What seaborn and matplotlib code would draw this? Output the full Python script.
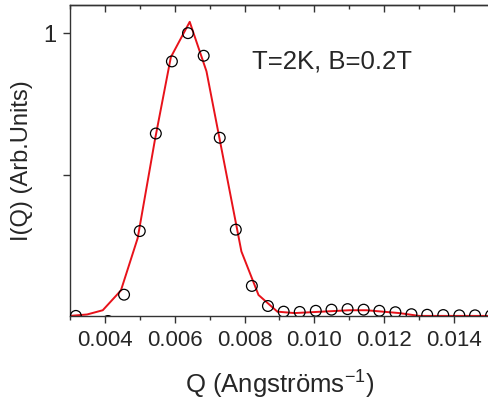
import numpy as np
import pandas as pd
import matplotlib
matplotlib.use("Agg")
import matplotlib.pyplot as plt
import seaborn as sns
from matplotlib.ticker import MultipleLocator

# measured intensities (circles)
q_data = [0.00317, 0.00409, 0.00455, 0.00500, 0.00546, 0.00592, 0.00638, 0.00683,
          0.00729, 0.00775, 0.00821, 0.00867, 0.00912, 0.00958, 0.01004, 0.01049,
          0.01095, 0.01141, 0.01186, 0.01232, 0.01278, 0.01323, 0.01369, 0.01415,
          0.01460, 0.01506]
i_data = [0.0, -0.018, 0.075, 0.30, 0.645, 0.90, 1.0, 0.92,
          0.63, 0.305, 0.106, 0.035, 0.015, 0.014, 0.018, 0.022,
          0.024, 0.022, 0.018, 0.013, 0.006, 0.004, 0.003, 0.002,
          0.002, 0.002]

# fit curve (red line)
q_fit = [0.00300, 0.00349, 0.00394, 0.00446, 0.00494, 0.00543, 0.00589, 0.00643,
         0.00691, 0.00791, 0.00840, 0.00894, 0.00943, 0.01100, 0.01149, 0.01243,
         0.01300, 0.01500]
i_fit = [0.0, 0.005, 0.02, 0.09, 0.275, 0.62, 0.915, 1.04,
         0.865, 0.228, 0.074, 0.015, 0.010, 0.020, 0.020, 0.010,
         0.0, 0.0]

sns.set_style("ticks")
plt.rcParams['font.family'] = ['Liberation Sans', 'DejaVu Sans']

df_data = pd.DataFrame({"Q": q_data, "I": i_data})
df_fit = pd.DataFrame({"Q": q_fit, "I": i_fit})

fig = plt.figure(figsize=(4.89, 4.05), dpi=100)
ax = fig.add_axes([0.143, 0.22, 0.857, 0.768])

sns.lineplot(data=df_fit, x="Q", y="I", color="#e8121a", linewidth=1.4, ax=ax, sort=False)
sns.scatterplot(data=df_data, x="Q", y="I", marker="o", s=60, facecolor="none",
                edgecolor="black", linewidth=0.9, ax=ax, zorder=3)

ax.set_xlim(0.003, 0.015)
ax.set_ylim(0, 1.1)
ax.set_xticks([0.004, 0.006, 0.008, 0.010, 0.012, 0.014])
ax.set_xticklabels(["0.004", "0.006", "0.008", "0.010", "0.012", "0.014"])
ax.xaxis.set_minor_locator(MultipleLocator(0.001))
ax.set_yticks([0.5, 1.0])
ax.set_yticklabels(["", "1"])

ax.spines["right"].set_visible(False)
for s in ["left", "top", "bottom"]:
    ax.spines[s].set_linewidth(1.0)
    ax.spines[s].set_color("#333333")

ax.tick_params(axis="x", which="major", direction="out", length=5, width=1,
               labelsize=16, color="#333333", pad=5)
ax.tick_params(axis="x", which="minor", direction="out", length=3, width=1,
               color="#333333")
ax.tick_params(axis="y", which="major", direction="out", length=5, width=1,
               labelsize=17, color="#333333", pad=5)

# top axis: inward ticks, no labels
top = ax.secondary_xaxis("top")
top.set_xticks([0.004, 0.006, 0.008, 0.010, 0.012, 0.014])
top.xaxis.set_minor_locator(MultipleLocator(0.001))
top.tick_params(axis="x", which="major", direction="in", length=5, width=1,
                labeltop=False, color="#333333")
top.tick_params(axis="x", which="minor", direction="in", length=3, width=1,
                color="#333333")
top.spines["top"].set_linewidth(1.0)
top.spines["top"].set_color("#333333")

ax.set_xlabel("Q (Angströms$^{\\mathregular{-1}}$)", fontsize=18.5, labelpad=12)
ax.set_ylabel("I(Q) (Arb.Units)", fontsize=17, labelpad=7)

ax.text(0.0082, 0.90, "T=2K, B=0.2T", fontsize=18.5, ha="left", va="center")

fig.savefig("out.png", dpi=100)
